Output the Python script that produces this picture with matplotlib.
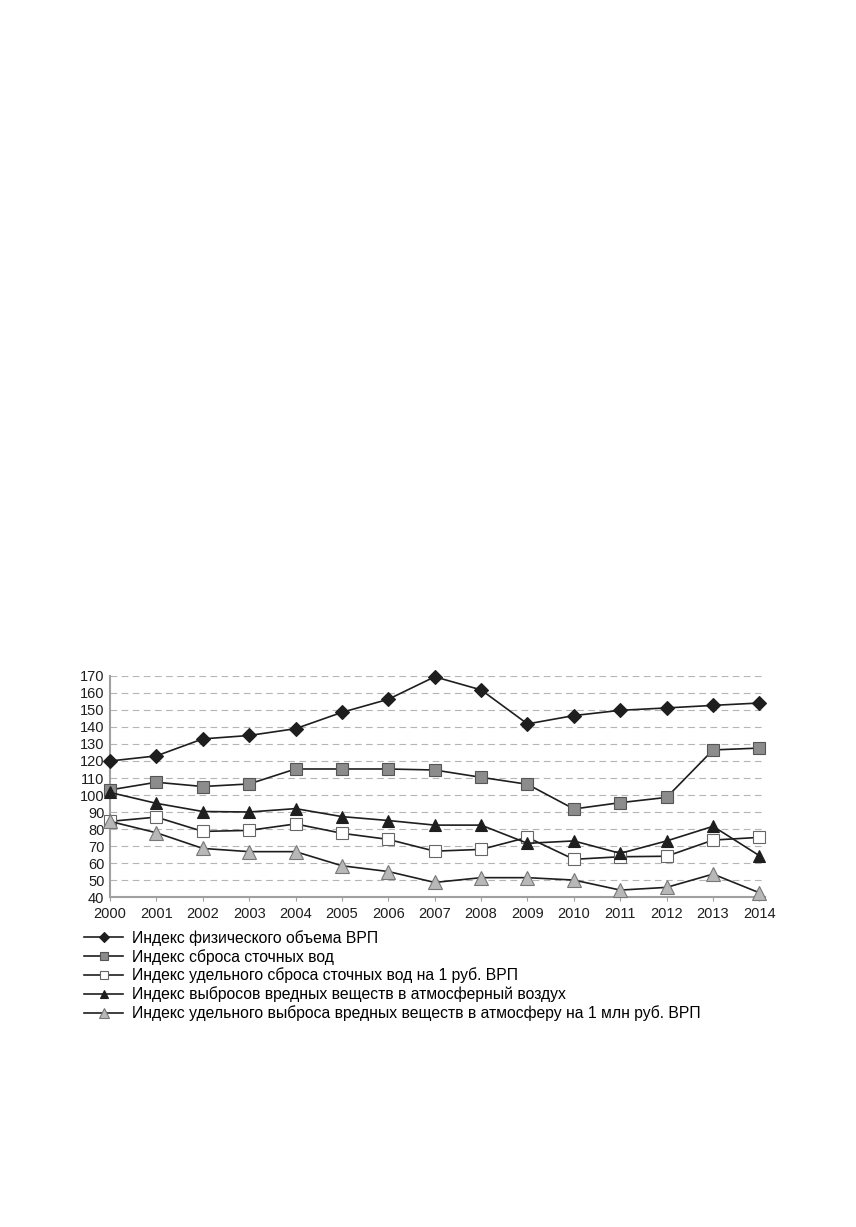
import matplotlib
matplotlib.use('Agg')
import matplotlib.pyplot as plt
import numpy as np

plt.rcParams['font.family'] = ['Liberation Sans', 'DejaVu Sans']

years = np.arange(2000, 2015)

# index values
grp_volume = [120, 123, 133, 135, 139, 148.6, 156.3, 169.5, 161.8, 141.8,
              146.7, 149.8, 151.2, 152.7, 154.1]
waste_water = [103, 107.5, 105, 106.5, 115.3, 115.3, 115.3, 114.7, 110.4, 106.3,
               91.8, 95.5, 98.6, 126.5, 127.6]
waste_water_per_rub = [84.5, 87, 78.6, 79.2, 83, 77.5, 73.9, 67, 68, 75.1,
                       62.2, 63.7, 64, 73.5, 75.1]
air_emissions = [101.5, 95.1, 90.3, 90, 92, 87.3, 85, 82.3, 82.3, 71.6,
                 73, 65.7, 73, 81.6, 64.3]
air_emissions_per_mln = [84.5, 77.8, 68.6, 66.7, 66.7, 58.4, 55, 48.6, 51.4, 51.4,
                         50, 44.1, 45.7, 53.5, 42.5]

labels = ['Индекс физического объема ВРП',
          'Индекс сброса сточных вод',
          'Индекс удельного сброса сточных вод на 1 руб. ВРП',
          'Индекс выбросов вредных веществ в атмосферный воздух',
          'Индекс удельного выброса вредных веществ в атмосферу на 1 млн руб. ВРП']

series = [grp_volume, waste_water, waste_water_per_rub, air_emissions,
          air_emissions_per_mln]
styles = [('D', '#1e1e1e', '#1e1e1e', 7.5),
          ('s', '#8c8c8c', '#555555', 8.6),
          ('s', 'white', '#666666', 8.6),
          ('^', '#1e1e1e', '#1e1e1e', 9.2),
          ('^', '#b8b8b8', '#777777', 9.8)]

fig = plt.figure(figsize=(8.56, 12.27), dpi=100)
ax = fig.add_axes([0.1285, 0.2689, 0.8937 - 0.1285, 0.4491 - 0.2689])

handles = []
for vals, lab, (m, fc, ec, ms) in zip(series, labels, styles):
    ax.plot(years, vals, color='#1e1e1e', lw=1.2, marker=m, ms=ms,
            mfc=fc, mec=ec, mew=0.8, zorder=3, clip_on=False)
    # smaller markers for legend
    h, = ax.plot([], [], color='#1e1e1e', lw=1.2, marker=m, ms=ms * 0.68,
                 mfc=fc, mec=ec, mew=0.8, label=lab)
    handles.append(h)

ax.set_xlim(2000, 2014.12)
ax.set_ylim(40, 170)
ax.set_yticks(np.arange(40, 171, 10))
ax.set_xticks(years)
ax.grid(axis='y', color='#b5b5b5', ls=(0, (6, 4)), lw=0.8)
ax.set_axisbelow(True)
for s in ['top', 'right']:
    ax.spines[s].set_visible(False)
for s in ['left', 'bottom']:
    ax.spines[s].set_color('#a0a0a0')
    ax.spines[s].set_linewidth(1.5)
ax.tick_params(axis='y', length=0, pad=4, labelsize=10.5, colors='#1e1e1e')
ax.tick_params(axis='x', length=3, color='#a0a0a0', pad=4, labelsize=10.5,
               labelcolor='#1e1e1e')

fig.legend(handles=handles, loc='upper left',
           bbox_to_anchor=(84 / 856, 1 - 930 / 1227), frameon=False,
           fontsize=11.3, handlelength=2.5, handletextpad=0.55,
           labelspacing=0.19, borderpad=0, borderaxespad=0)

fig.savefig('out.png', dpi=100, facecolor='white')
